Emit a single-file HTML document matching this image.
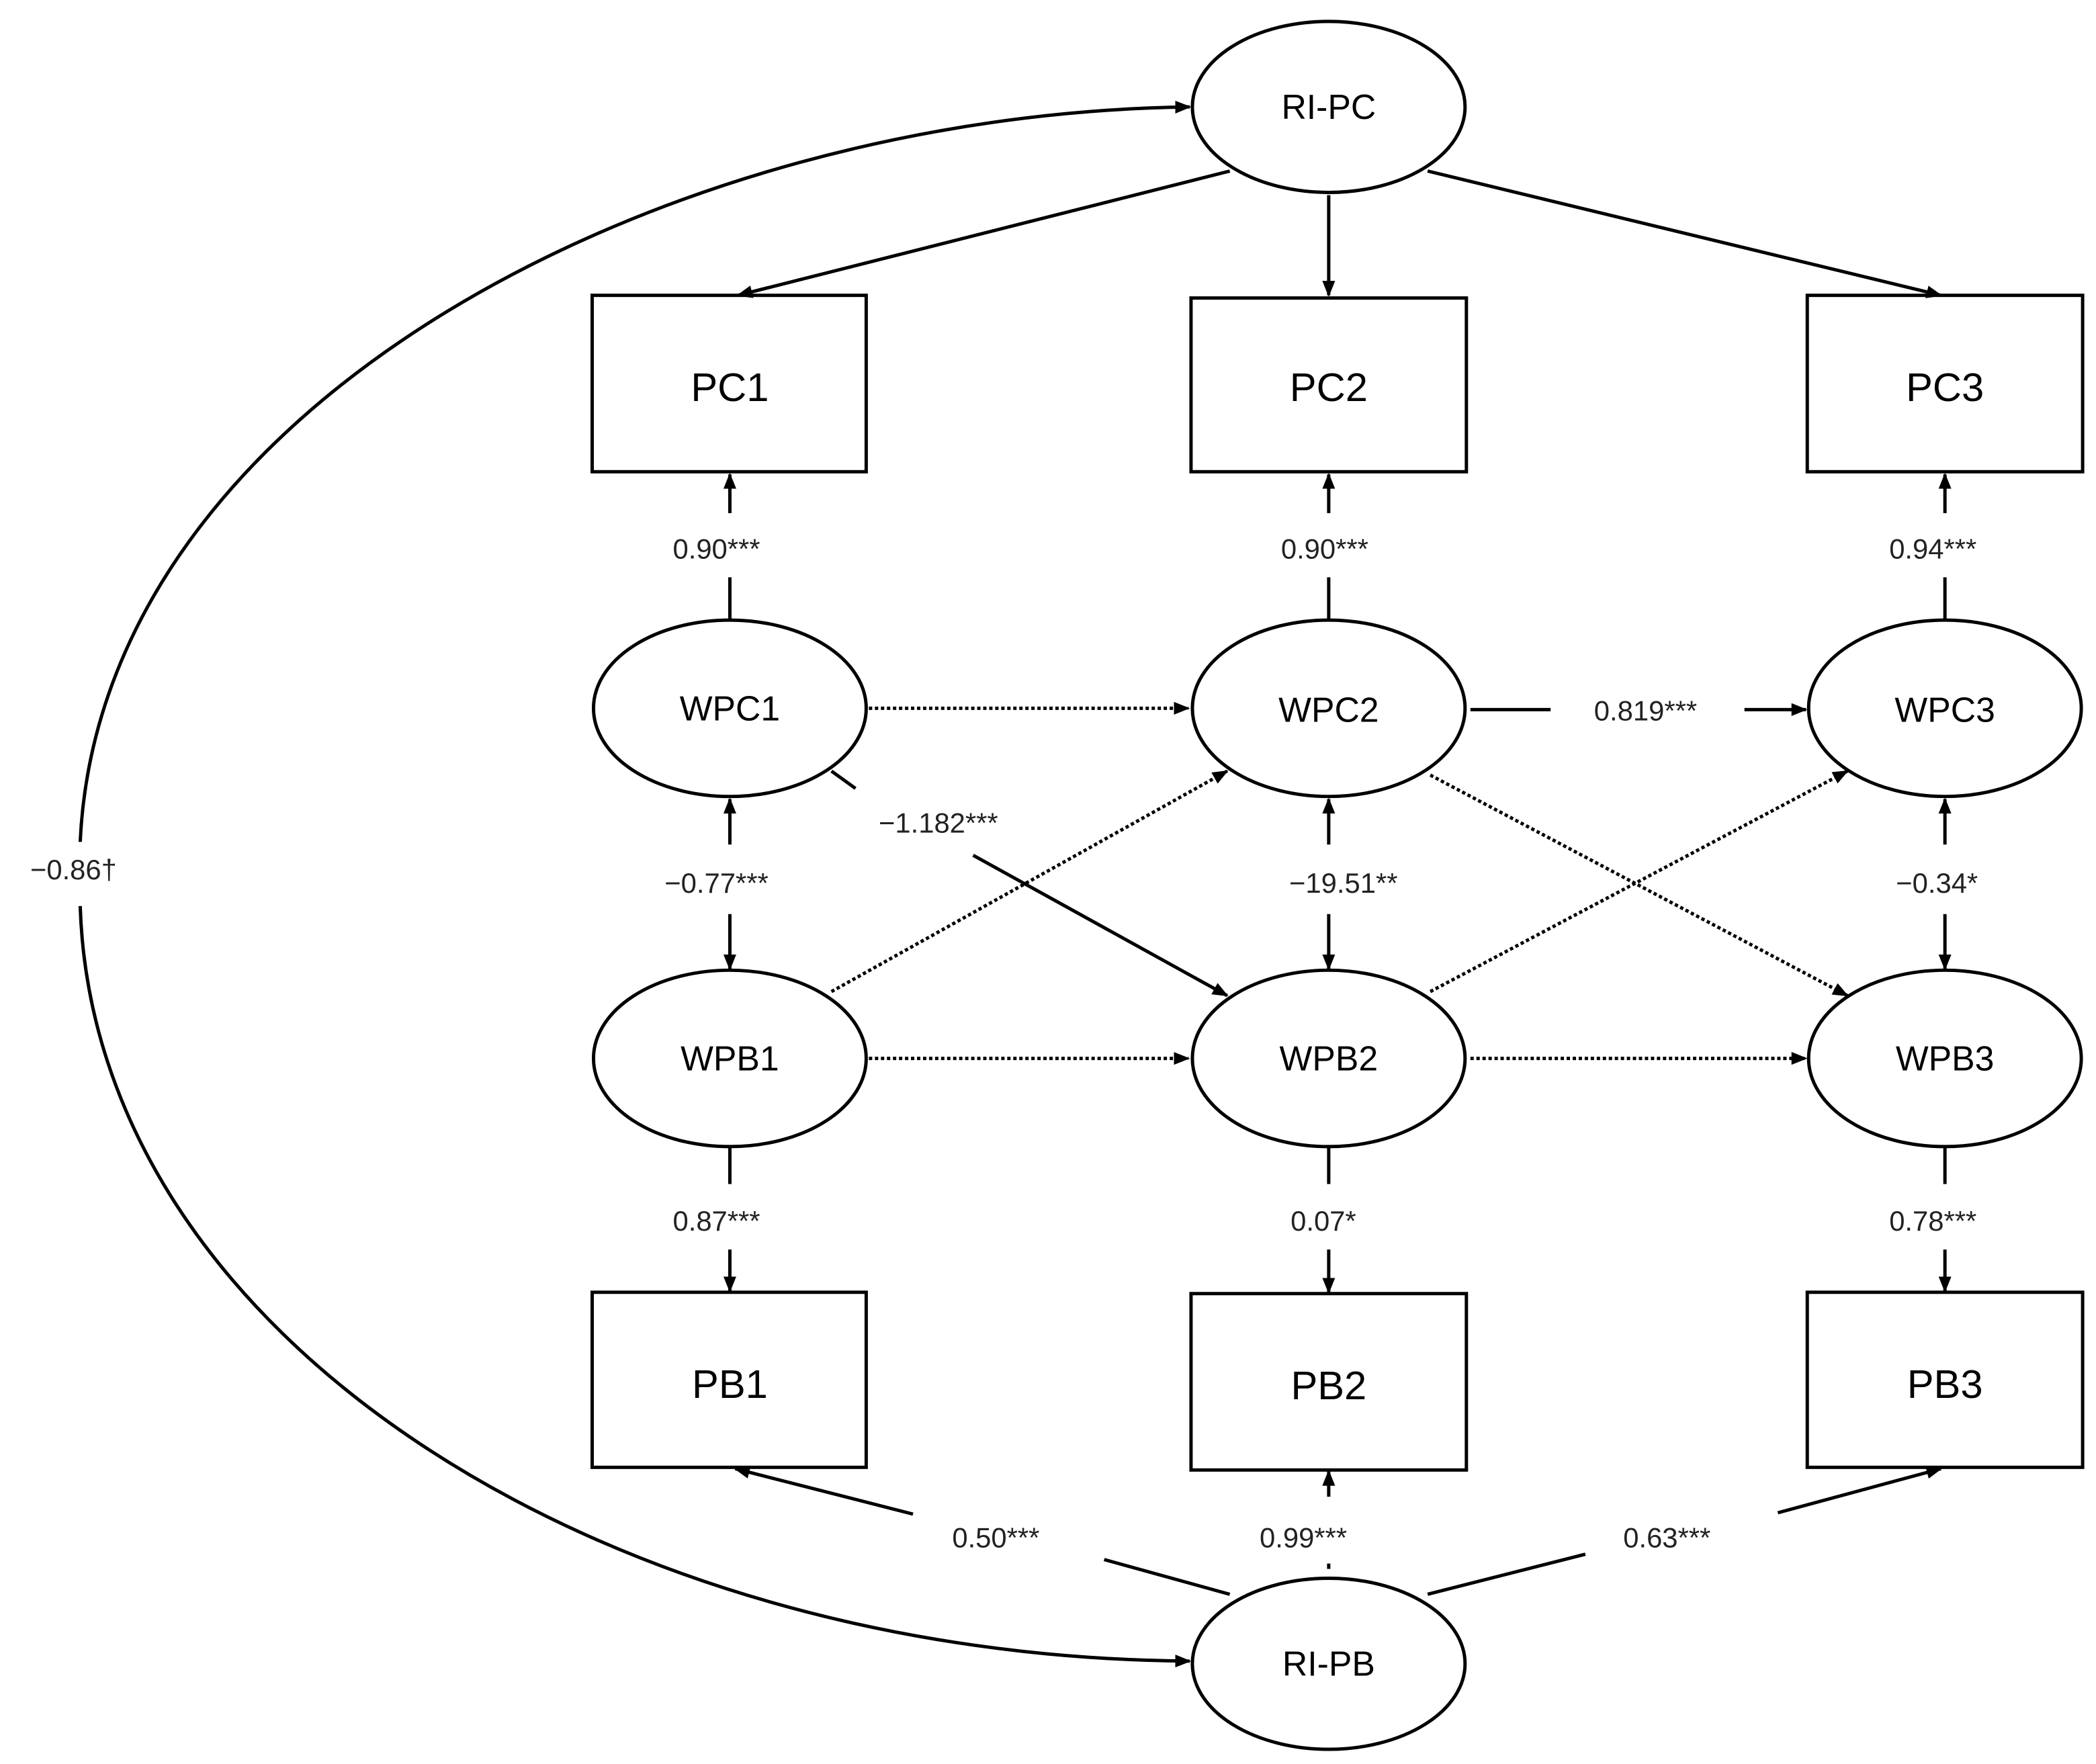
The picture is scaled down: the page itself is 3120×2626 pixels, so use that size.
<!DOCTYPE html>
<html><head><meta charset="utf-8"><style>html,body{margin:0;padding:0;background:#fff}svg{display:block}</style></head>
<body>
<svg width="3120" height="2626" viewBox="0 0 1568 1320" preserveAspectRatio="none" xmlns="http://www.w3.org/2000/svg" font-family="Liberation Sans, sans-serif">
<defs>
<marker id="a" viewBox="0 0 10 10" refX="9" refY="5" markerWidth="6" markerHeight="6" orient="auto-start-reverse" markerUnits="userSpaceOnUse"><path d="M0,0 L10,5 L0,10 z" fill="#000"/></marker>
<marker id="b" viewBox="0 0 10 10" refX="9" refY="5" markerWidth="12" markerHeight="12" orient="auto-start-reverse" markerUnits="userSpaceOnUse"><path d="M0,1 L10,5 L0,9 z" fill="#000"/></marker>
</defs>
<g fill="none" stroke="#000" stroke-width="2.5">
<ellipse cx="994" cy="80" rx="102" ry="64"/>
<ellipse cx="994" cy="1245" rx="102" ry="64"/>
<ellipse cx="546" cy="530" rx="102" ry="66"/>
<ellipse cx="994" cy="530" rx="102" ry="66"/>
<ellipse cx="1455" cy="530" rx="102" ry="66"/>
<ellipse cx="546" cy="792" rx="102" ry="66"/>
<ellipse cx="994" cy="792" rx="102" ry="66"/>
<ellipse cx="1455" cy="792" rx="102" ry="66"/>
<rect x="443" y="221" width="205" height="132"/>
<rect x="891" y="223" width="206" height="130"/>
<rect x="1352" y="221" width="206" height="132"/>
<rect x="443" y="967" width="205" height="131"/>
<rect x="891" y="968" width="206" height="132"/>
<rect x="1352" y="967" width="206" height="131"/>
<!-- RI-PC loadings -->
<line x1="920" y1="128" x2="552" y2="221" marker-end="url(#b)"/>
<line x1="994" y1="146" x2="994" y2="221" marker-end="url(#b)"/>
<line x1="1068" y1="128" x2="1452" y2="221" marker-end="url(#b)"/>
<!-- WPC -> PC -->
<line x1="546" y1="464" x2="546" y2="432"/><line x1="546" y1="384" x2="546" y2="355" marker-end="url(#b)"/>
<line x1="994" y1="464" x2="994" y2="432"/><line x1="994" y1="384" x2="994" y2="355" marker-end="url(#b)"/>
<line x1="1455" y1="464" x2="1455" y2="432"/><line x1="1455" y1="384" x2="1455" y2="355" marker-end="url(#b)"/>
<!-- WPB -> PB -->
<line x1="546" y1="858" x2="546" y2="886"/><line x1="546" y1="935" x2="546" y2="966" marker-end="url(#b)"/>
<line x1="994" y1="858" x2="994" y2="886"/><line x1="994" y1="935" x2="994" y2="967" marker-end="url(#b)"/>
<line x1="1455" y1="858" x2="1455" y2="886"/><line x1="1455" y1="935" x2="1455" y2="966" marker-end="url(#b)"/>
<!-- covariances -->
<line x1="546" y1="632" x2="546" y2="598" marker-end="url(#b)"/><line x1="546" y1="684" x2="546" y2="725" marker-end="url(#b)"/>
<line x1="994" y1="632" x2="994" y2="598" marker-end="url(#b)"/><line x1="994" y1="684" x2="994" y2="725" marker-end="url(#b)"/>
<line x1="1455" y1="632" x2="1455" y2="598" marker-end="url(#b)"/><line x1="1455" y1="684" x2="1455" y2="725" marker-end="url(#b)"/>
<!-- cross-lagged -->
<line x1="1100" y1="531" x2="1160" y2="531"/><line x1="1305" y1="531" x2="1351" y2="531" marker-end="url(#b)"/>
<line x1="622" y1="577" x2="640" y2="590"/><line x1="728" y1="640" x2="918" y2="745" marker-end="url(#b)"/>
<!-- RI-PB loadings -->
<line x1="920" y1="1193" x2="826" y2="1167"/><line x1="683" y1="1133" x2="550" y2="1099" marker-end="url(#b)"/>
<line x1="994" y1="1170" x2="994" y2="1174"/><line x1="994" y1="1120" x2="994" y2="1101" marker-end="url(#b)"/>
<line x1="1068" y1="1193" x2="1186" y2="1163"/><line x1="1330" y1="1132" x2="1452" y2="1099" marker-end="url(#b)"/>
<!-- curve -->
<path d="M60,630 C75,300 500,85 890,80" marker-end="url(#b)"/>
<path d="M60,678 C70,1000 450,1240 890,1243" marker-end="url(#b)"/>
</g>
<g fill="none" stroke="#000" stroke-width="2.5" stroke-dasharray="2.5,2">
<line x1="650" y1="530" x2="889" y2="530" marker-end="url(#b)"/>
<line x1="1100" y1="792" x2="1351" y2="792" marker-end="url(#b)"/>
<line x1="650" y1="792" x2="889" y2="792" marker-end="url(#b)"/>
<line x1="622" y1="742" x2="918" y2="577" marker-end="url(#b)"/>
<line x1="1070" y1="742" x2="1382" y2="577" marker-end="url(#b)"/>
<line x1="1070" y1="580" x2="1382" y2="745" marker-end="url(#b)"/>
</g>
<g font-size="26" text-anchor="middle" fill="#000">
<text x="994" y="89">RI-PC</text>
<text x="994" y="1254">RI-PB</text>
<text x="546" y="539">WPC1</text><text x="994" y="540">WPC2</text><text x="1455" y="540">WPC3</text>
<text x="546" y="801">WPB1</text><text x="994" y="801">WPB2</text><text x="1455" y="801">WPB3</text>
<g font-size="30">
<text x="546" y="300">PC1</text><text x="994" y="300">PC2</text><text x="1455" y="300">PC3</text>
<text x="546" y="1046">PB1</text><text x="994" y="1047">PB2</text><text x="1455" y="1046">PB3</text>
</g>
</g>
<g font-size="21" text-anchor="middle" fill="#222">
<text x="536" y="418">0.90***</text><text x="991" y="418">0.90***</text><text x="1446" y="418">0.94***</text>
<text x="536" y="668">−0.77***</text><text x="1005" y="668">−19.51**</text><text x="1449" y="668">−0.34*</text>
<text x="536" y="921">0.87***</text><text x="990" y="921">0.07*</text><text x="1446" y="921">0.78***</text>
<text x="1231" y="539">0.819***</text>
<text x="702" y="623">−1.182***</text>
<text x="745" y="1158">0.50***</text><text x="975" y="1158">0.99***</text><text x="1247" y="1158">0.63***</text>
<text x="55" y="658">−0.86†</text>
</g>
</svg>
</body></html>
